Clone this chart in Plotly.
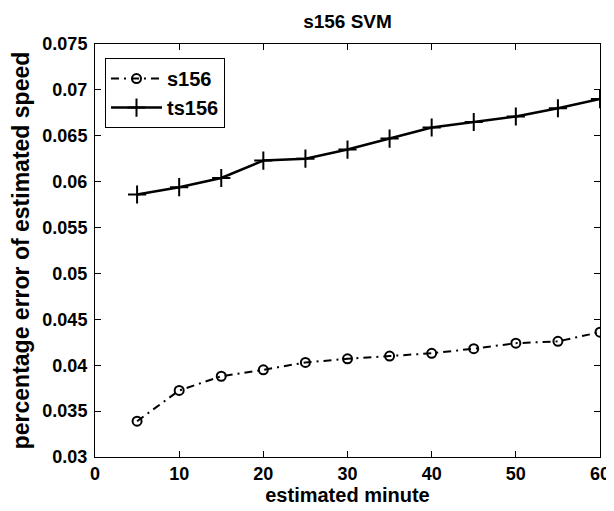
import plotly.graph_objects as go

# estimated minute
minutes = [5, 10, 15, 20, 25, 30, 35, 40, 45, 50, 55, 60]
# percentage error of estimated speed
s156 = [0.0339, 0.03725, 0.0388, 0.0395, 0.0403, 0.0407, 0.0410, 0.0413, 0.0418, 0.0424, 0.0426, 0.0436]
ts156 = [0.0586, 0.0594, 0.0604, 0.0623, 0.0625, 0.0635, 0.0647, 0.0659, 0.0665, 0.0671, 0.0680, 0.0690]

fnt = "Liberation Sans, Arial, sans-serif"

# page body has an 8px margin, so the figure is made 8px smaller each way
W, H = 606, 503

fig = go.Figure()
fig.add_trace(go.Scatter(
    x=minutes, y=s156, name="s156", mode="lines+markers",
    line=dict(color="black", width=2, dash="8px,5px,2px,5px"),
    marker=dict(symbol="circle-open", size=9, color="black", line=dict(width=2)),
))
fig.add_trace(go.Scatter(
    x=minutes, y=ts156, name="ts156", mode="lines+markers",
    line=dict(color="black", width=2.5),
    marker=dict(symbol="cross-thin-open", size=13, color="black", line=dict(width=2, color="black")),
))

# matlab style box: inside ticks on all four sides
axis_style = dict(
    showline=True, linecolor="black", linewidth=1, mirror="allticks",
    ticks="inside", ticklen=6, tickcolor="black", showgrid=False, zeroline=False,
    automargin=False,
    tickfont=dict(family=fnt, size=18, color="black", weight="bold"),
)

fig.update_layout(
    width=W, height=H,
    margin=dict(l=87, r=14, t=36, b=54),
    paper_bgcolor="white", plot_bgcolor="white",
    title=dict(text="s156 SVM", xref="paper", x=0.5, xanchor="center",
               y=1 - 13 / H, yanchor="middle",
               font=dict(family=fnt, size=19, color="black", weight="bold")),
    xaxis=dict(range=[0, 60], dtick=10, ticklabelstandoff=0, **axis_style,
               title=dict(text="estimated minute", standoff=2,
                          font=dict(family=fnt, size=20, color="black", weight="bold"))),
    yaxis=dict(range=[0.03, 0.075], dtick=0.005, tickformat="~g", ticklabelstandoff=3, **axis_style,
               title=dict(text="percentage error of estimated speed", standoff=10,
                          font=dict(family=fnt, size=23, color="black", weight="bold"))),
    legend=dict(x=0.0198, y=0.966, xanchor="left", yanchor="top",
                bgcolor="white", bordercolor="black", borderwidth=1,
                font=dict(family=fnt, size=20, color="black", weight="bold"),
                itemwidth=51, tracegroupgap=0),
    showlegend=True,
)

fig.write_html("out.html")
